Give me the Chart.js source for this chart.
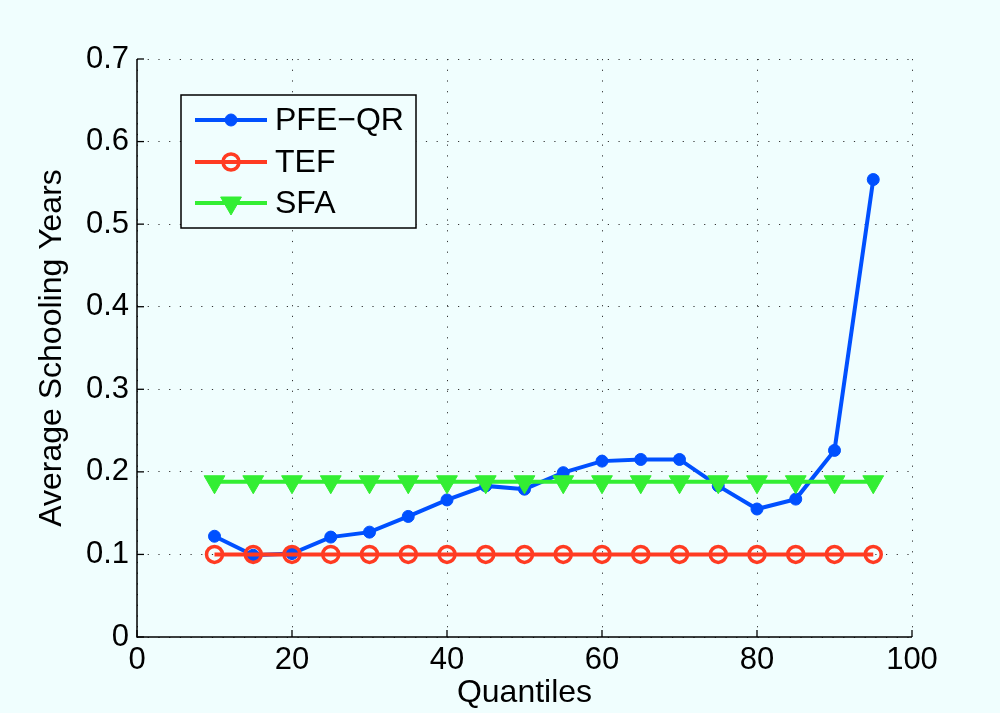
<!DOCTYPE html>
<html>
<head>
<meta charset="utf-8">
<script src="https://cdn.jsdelivr.net/npm/chart.js@4/dist/chart.umd.min.js"></script>
<style>
html,body{margin:0;padding:0;background:#f0fefe;}
canvas{display:block;}
</style>
</head>
<body>
<canvas id="c" width="1000" height="713"></canvas>
<script>
// ---- data ----
const quantiles = [10, 15, 20, 25, 30, 35, 40, 45, 50, 55, 60, 65, 70, 75, 80, 85, 90, 95];
const pfeQR = [0.122, 0.099, 0.101, 0.121, 0.127, 0.146, 0.166, 0.183, 0.179, 0.199, 0.213, 0.215, 0.215, 0.183, 0.155, 0.167, 0.226, 0.554];
const tef   = [0.100, 0.100, 0.100, 0.100, 0.100, 0.100, 0.100, 0.100, 0.100, 0.100, 0.100, 0.100, 0.100, 0.100, 0.100, 0.100, 0.100, 0.100];
const sfa   = [0.188, 0.188, 0.188, 0.188, 0.188, 0.188, 0.188, 0.188, 0.188, 0.188, 0.188, 0.188, 0.188, 0.188, 0.188, 0.188, 0.188, 0.188];
const seriesNames = ['PFE\u2212QR', 'TEF', 'SFA'];
const xTicks = [0, 20, 40, 60, 80, 100];
const yTicks = [0, 0.1, 0.2, 0.3, 0.4, 0.5, 0.6, 0.7];
const xTitle = 'Quantiles';
const yTitle = 'Average Schooling Years';

const FONT = "'Liberation Sans', Arial, Helvetica, sans-serif";
const BG = '#f0fefe';
const BLUE = '#0050ff', RED = '#ff3b22', GREEN = '#33ee33';

const toPts = arr => quantiles.map((q, i) => ({x: q, y: arr[i]}));

const bgPlugin = {
  id: 'bg',
  beforeDraw(chart) {
    const {ctx, width, height} = chart;
    ctx.save();
    ctx.fillStyle = BG;
    ctx.fillRect(0, 0, width, height);
    ctx.restore();
  }
};

const axesPlugin = {
  id: 'axesLines',
  beforeDatasetsDraw(chart) {
    const {ctx, chartArea: a, scales: {x, y}} = chart;
    ctx.save();
    ctx.strokeStyle = '#000';
    ctx.lineWidth = 1.5;
    ctx.setLineDash([]);
    ctx.beginPath();
    ctx.moveTo(a.left, a.top);
    ctx.lineTo(a.left, a.bottom);
    ctx.lineTo(a.right, a.bottom);
    ctx.stroke();
    ctx.lineWidth = 1.3;
    xTicks.forEach(v => {
      const px = x.getPixelForValue(v);
      ctx.beginPath(); ctx.moveTo(px, a.bottom); ctx.lineTo(px, a.bottom - 7); ctx.stroke();
    });
    yTicks.forEach(v => {
      const py = y.getPixelForValue(v);
      ctx.beginPath(); ctx.moveTo(a.left, py); ctx.lineTo(a.left + 7, py); ctx.stroke();
    });
    ctx.restore();
  }
};

function drawMarker(ctx, ds, cx, cy) {
  ctx.save();
  ctx.setLineDash([]);
  ctx.fillStyle = ds.pointBackgroundColor;
  ctx.strokeStyle = ds.pointBorderColor;
  ctx.lineWidth = ds.pointBorderWidth;
  const r = ds.pointRadius;
  ctx.beginPath();
  if (ds.pointStyle === 'triangle') {
    // downward triangle, centroid at (cx, cy)
    const s = Math.sin(Math.PI / 3) * r;
    ctx.moveTo(cx - s, cy - r / 2);
    ctx.lineTo(cx + s, cy - r / 2);
    ctx.lineTo(cx, cy + r);
    ctx.closePath();
  } else {
    ctx.arc(cx, cy, r, 0, Math.PI * 2);
  }
  ctx.fill();
  if (ds.pointBorderWidth > 0) ctx.stroke();
  ctx.restore();
}

const legendPlugin = {
  id: 'customLegend',
  afterDraw(chart) {
    const {ctx} = chart;
    const box = {x: 181, y: 95, w: 235, h: 133};
    ctx.save();
    ctx.fillStyle = BG;
    ctx.fillRect(box.x, box.y, box.w, box.h);
    ctx.strokeStyle = '#000';
    ctx.lineWidth = 1.5;
    ctx.setLineDash([]);
    ctx.strokeRect(box.x, box.y, box.w, box.h);
    const rows = [120, 162, 203];
    chart.data.datasets.forEach((ds, i) => {
      const yy = rows[i];
      ctx.strokeStyle = ds.borderColor;
      ctx.lineWidth = ds.borderWidth;
      ctx.beginPath();
      ctx.moveTo(195, yy);
      ctx.lineTo(267, yy);
      ctx.stroke();
      drawMarker(ctx, ds, 231, yy);
      ctx.fillStyle = '#000';
      ctx.font = '32px ' + FONT;
      ctx.textBaseline = 'middle';
      ctx.textAlign = 'left';
      ctx.fillText(ds.label, 275, yy + 1);
    });
    ctx.restore();
  }
};

const gridCommon = {
  color: '#333',
  lineWidth: 1,
  drawTicks: false
};

new Chart(document.getElementById('c'), {
  type: 'line',
  data: {
    datasets: [
      {
        label: seriesNames[0], data: toPts(pfeQR), order: 3,
        borderColor: BLUE, backgroundColor: BLUE, borderWidth: 4,
        pointStyle: 'circle', pointRadius: 6, pointBackgroundColor: BLUE,
        pointBorderColor: BLUE, pointBorderWidth: 1, tension: 0
      },
      {
        label: seriesNames[1], data: toPts(tef), order: 2,
        borderColor: RED, backgroundColor: RED, borderWidth: 4,
        pointStyle: 'circle', pointRadius: 8, pointBackgroundColor: 'rgba(0,0,0,0)',
        pointBorderColor: RED, pointBorderWidth: 3.5, tension: 0
      },
      {
        label: seriesNames[2], data: toPts(sfa), order: 1,
        borderColor: GREEN, backgroundColor: GREEN, borderWidth: 4,
        pointStyle: 'triangle', pointRotation: 180, pointRadius: 12,
        pointBackgroundColor: GREEN, pointBorderColor: GREEN, pointBorderWidth: 1, tension: 0
      }
    ]
  },
  options: {
    responsive: false,
    animation: false,
    devicePixelRatio: 1,
    layout: {padding: {left: 0, right: 88, top: 59, bottom: 0}},
    plugins: {legend: {display: false}, tooltip: {enabled: false}},
    scales: {
      x: {
        type: 'linear', min: 0, max: 100,
        afterBuildTicks(scale) { scale.ticks = xTicks.map(v => ({value: v})); },
        afterFit(scale) { scale.height = 76; },
        grid: gridCommon,
        border: {display: false, dash: [1.2, 9.5]},
        ticks: {padding: 5, color: '#000', font: {family: FONT, size: 31}, maxRotation: 0,
          callback: v => String(v)},
        title: {display: true, text: xTitle, color: '#000', font: {family: FONT, size: 32, lineHeight: 1.2},
          padding: {top: 0, bottom: 1}}
      },
      y: {
        type: 'linear', min: 0, max: 0.7,
        afterBuildTicks(scale) { scale.ticks = yTicks.map(v => ({value: v})); },
        afterFit(scale) { scale.width = 137; },
        grid: gridCommon,
        border: {display: false, dash: [1.2, 9.5]},
        ticks: {padding: 8, color: '#000', font: {family: FONT, size: 31},
          callback: v => (Math.round(v * 10) / 10).toString()},
        title: {display: true, text: yTitle, color: '#000', font: {family: FONT, size: 32, lineHeight: 1.2},
          padding: {top: 33, bottom: 0}}
      }
    }
  },
  plugins: [bgPlugin, axesPlugin, legendPlugin]
});
</script>
</body>
</html>
